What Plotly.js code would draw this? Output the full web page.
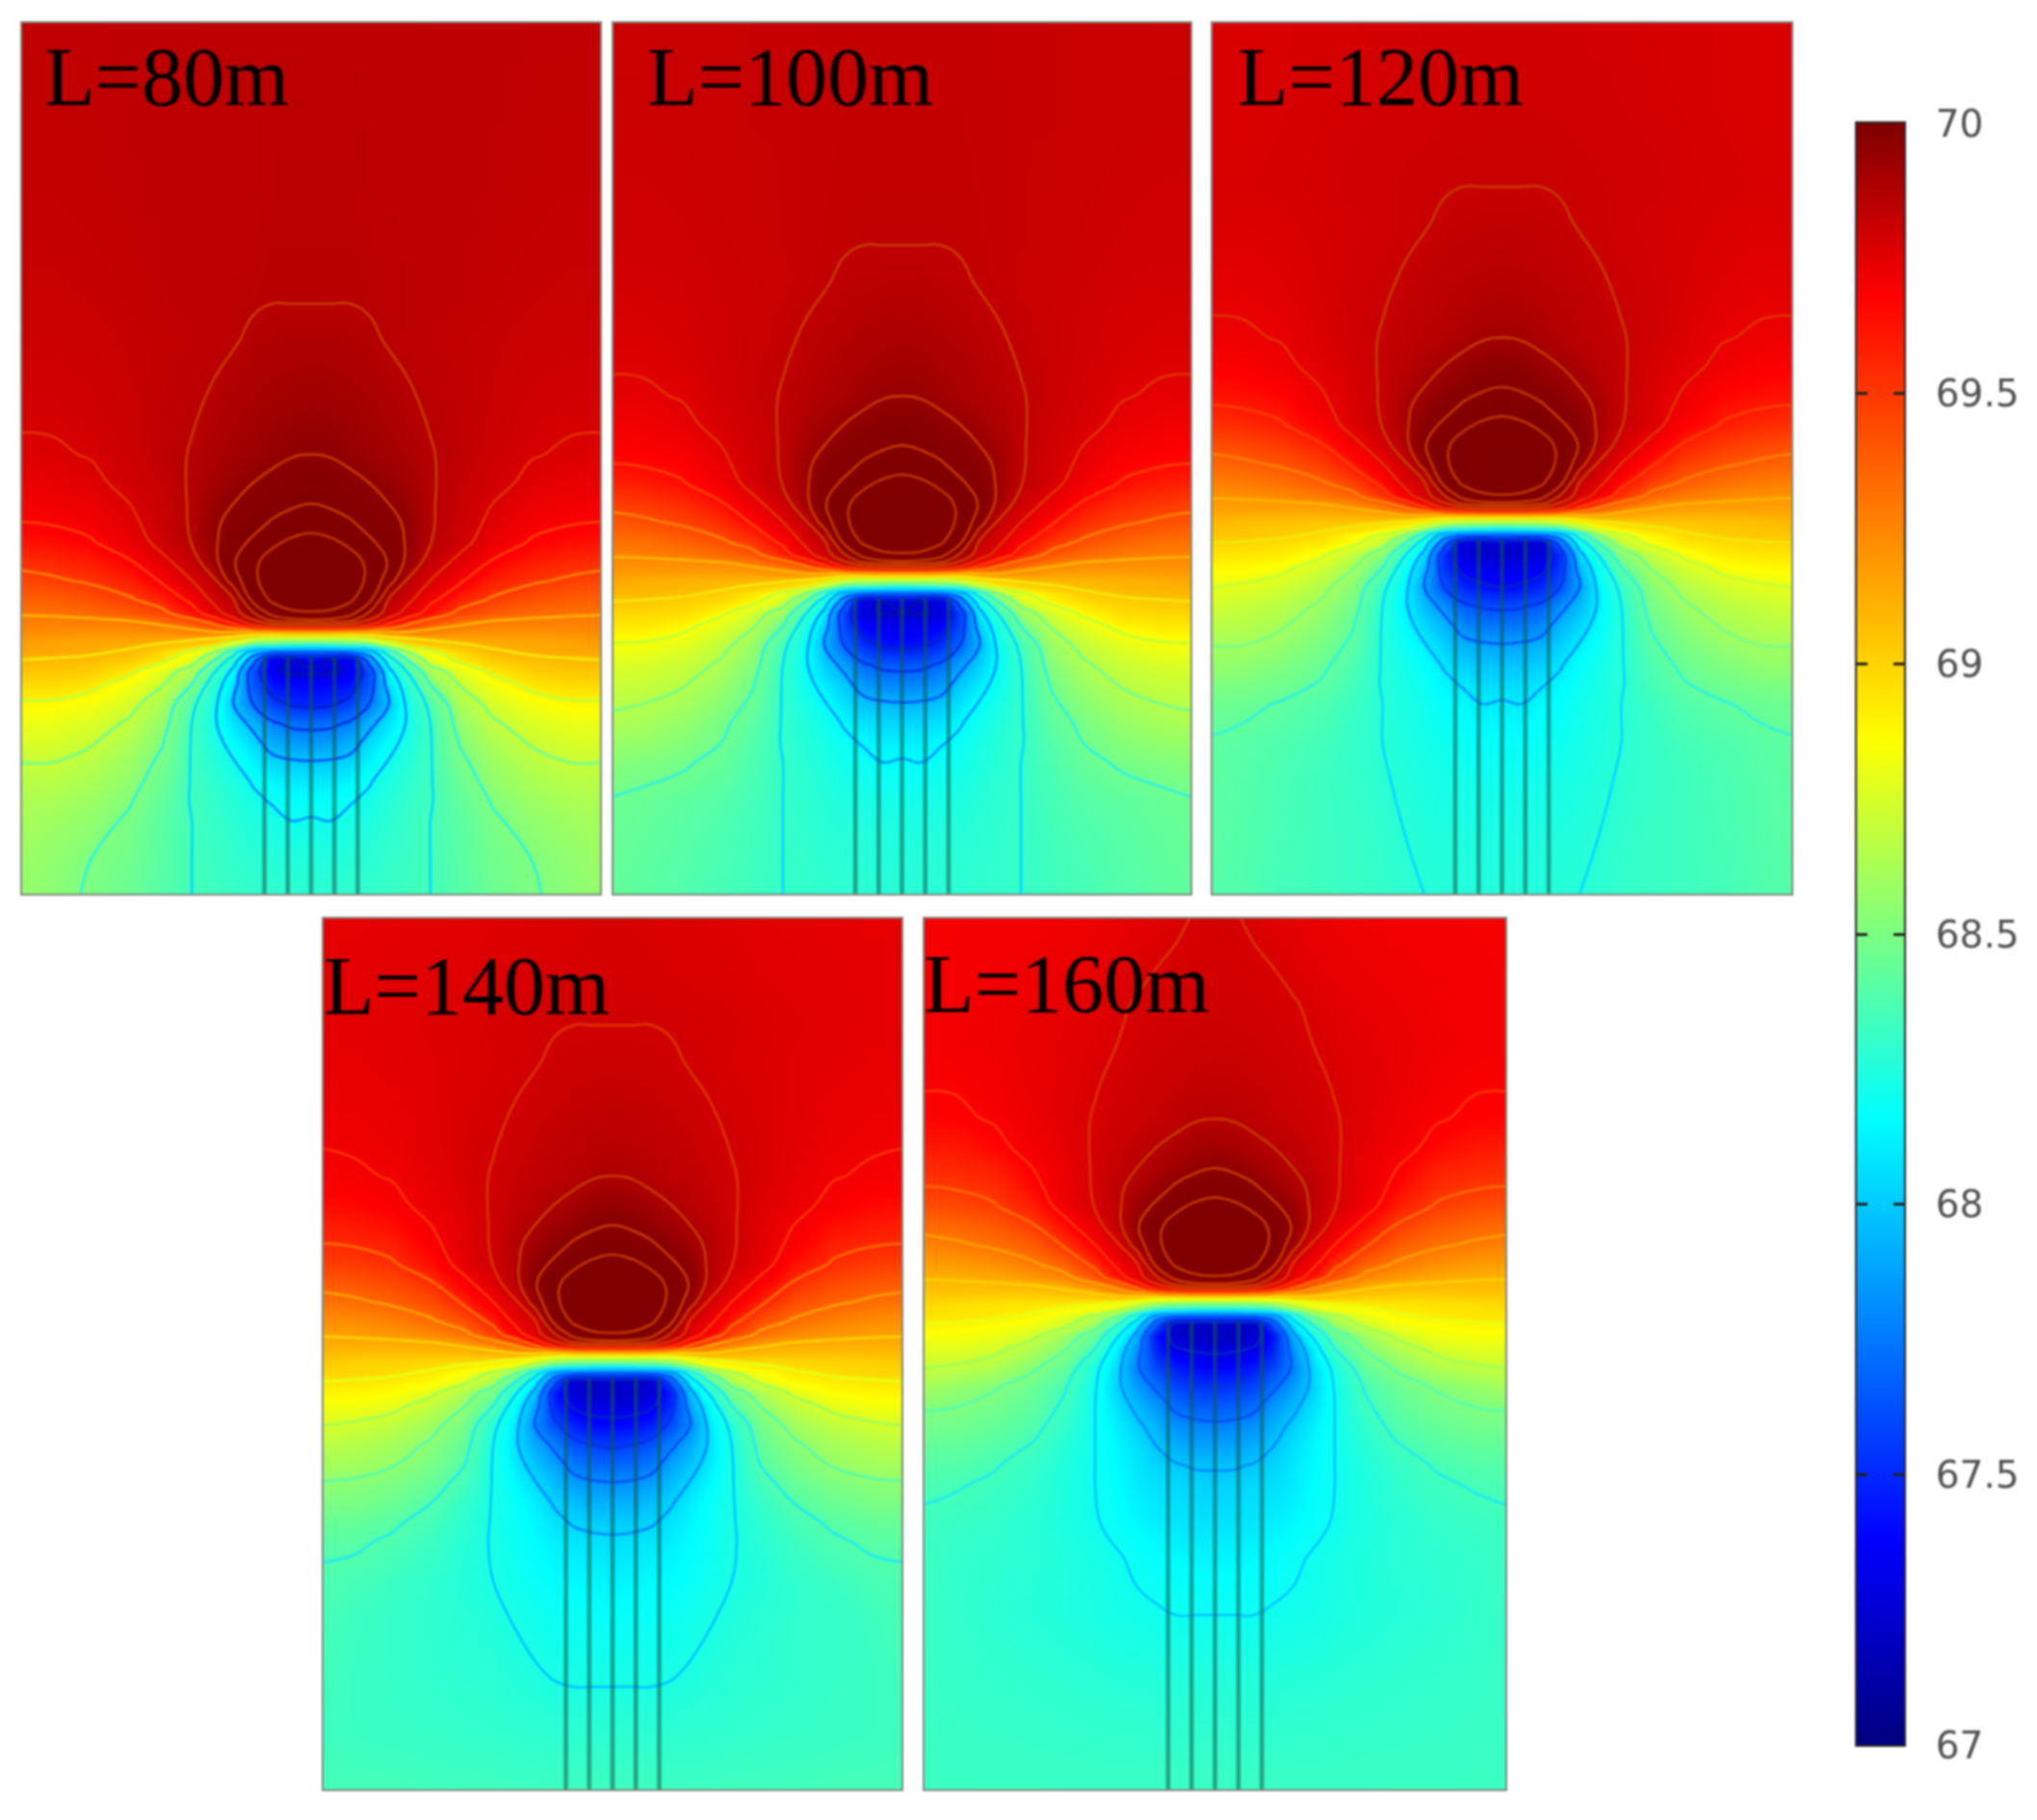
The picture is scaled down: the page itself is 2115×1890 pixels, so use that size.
<!DOCTYPE html>
<html><head><meta charset="utf-8">
<script src="https://cdn.plot.ly/plotly-3.0.1.min.js"></script>
<style>html,body{margin:0;padding:0;background:#fff}#gd{width:2115px;height:1890px;filter:blur(0.9px)}</style>
</head><body><div id="gd"></div>
<script>
// half-width column offsets from each panel's centre line (the field is mirror-symmetric)
const halfX=[0,15,30,45,60,75,92,115,140,170,200,223];
const labels=["L=80m","L=100m","L=120m","L=140m","L=160m"];
const rows80=[-474,-350,-258,-230,-200,-170,-142,-120,-104,-90,-75,-60,-45,-30,-20,-15,-10,-5,0,5,10,16,25,35,50,65,80,95,110,125,140,170,196];
const z80=[
[70.07,70.07,70.07,70.07,70.07,70.07,70.06,70.06,70.06,70.05,70.05,70.05],
[70.08,70.08,70.08,70.07,70.07,70.07,70.06,70.06,70.05,70.04,70.03,70.03],
[70.10,70.10,70.10,70.09,70.08,70.07,70.06,70.05,70.03,70.01,70.00,70.00],
[70.14,70.14,70.13,70.12,70.09,70.07,70.05,70.03,70.02,69.99,69.98,69.98],
[70.19,70.18,70.17,70.15,70.13,70.10,70.07,70.04,70.01,69.97,69.95,69.95],
[70.24,70.23,70.21,70.19,70.16,70.13,70.09,70.05,70.00,69.95,69.92,69.92],
[70.30,70.29,70.26,70.22,70.19,70.16,70.11,70.05,69.98,69.91,69.88,69.87],
[70.40,70.38,70.34,70.30,70.25,70.19,70.12,70.02,69.95,69.86,69.81,69.80],
[70.50,70.47,70.41,70.36,70.30,70.23,70.12,70.00,69.90,69.79,69.76,69.74],
[70.62,70.58,70.52,70.42,70.35,70.27,70.12,69.99,69.86,69.74,69.71,69.70],
[70.76,70.73,70.66,70.53,70.42,70.27,70.11,69.97,69.79,69.69,69.65,69.63],
[70.85,70.83,70.77,70.66,70.48,70.25,70.02,69.85,69.69,69.60,69.56,69.54],
[70.90,70.88,70.80,70.66,70.40,70.07,69.90,69.72,69.59,69.52,69.48,69.46],
[70.85,70.83,70.73,70.55,70.08,69.94,69.74,69.57,69.48,69.42,69.38,69.37],
[70.68,70.66,70.58,70.28,70.00,69.82,69.62,69.46,69.39,69.34,69.32,69.31],
[70.50,70.48,70.38,70.10,69.85,69.63,69.48,69.36,69.31,69.29,69.28,69.28],
[70.00,70.00,69.95,69.85,69.60,69.45,69.35,69.29,69.26,69.26,69.26,69.26],
[69.30,69.30,69.28,69.25,69.27,69.28,69.25,69.22,69.21,69.21,69.22,69.23],
[68.85,68.85,68.86,68.90,69.00,69.08,69.12,69.14,69.15,69.16,69.17,69.19],
[68.45,68.47,68.50,68.58,68.78,68.95,69.02,69.08,69.12,69.14,69.15,69.17],
[67.90,67.90,67.92,68.00,68.40,68.70,68.87,68.99,69.08,69.12,69.14,69.14],
[67.35,67.30,67.33,67.80,68.20,68.52,68.78,68.94,69.03,69.07,69.09,69.10],
[67.28,67.28,67.32,67.60,68.05,68.32,68.62,68.78,68.93,69.02,69.04,69.04],
[67.38,67.39,67.42,67.62,67.97,68.20,68.50,68.71,68.83,68.94,68.98,68.98],
[67.46,67.48,67.55,67.70,67.90,68.14,68.34,68.62,68.74,68.83,68.88,68.88],
[67.66,67.67,67.72,67.86,67.98,68.12,68.30,68.56,68.68,68.76,68.80,68.81],
[67.78,67.79,67.83,67.96,68.05,68.15,68.29,68.51,68.63,68.71,68.75,68.76],
[67.91,67.92,67.95,68.03,68.11,68.19,68.29,68.47,68.58,68.66,68.70,68.70],
[68.00,68.00,68.03,68.09,68.16,68.22,68.29,68.43,68.55,68.62,68.66,68.66],
[68.06,68.06,68.09,68.13,68.19,68.24,68.29,68.40,68.51,68.58,68.62,68.63],
[68.11,68.10,68.14,68.16,68.21,68.25,68.30,68.38,68.48,68.55,68.59,68.61],
[68.17,68.17,68.19,68.21,68.24,68.27,68.30,68.37,68.45,68.50,68.55,68.58],
[68.22,68.22,68.23,68.24,68.26,68.28,68.30,68.36,68.43,68.49,68.53,68.56]];
const rows100=[-429,-350,-258,-230,-200,-170,-142,-120,-104,-90,-75,-60,-45,-30,-20,-15,-10,-5,0,5,10,16,25,35,50,65,80,95,110,125,140,170,196,241];
const z100=[
[70.02,70.02,70.02,70.02,70.02,70.01,70.01,70.01,70.00,70.00,69.99,69.99],
[70.03,70.03,70.03,70.03,70.02,70.02,70.01,70.01,70.00,69.99,69.98,69.98],
[70.05,70.05,70.05,70.04,70.03,70.02,70.01,70.00,69.98,69.96,69.95,69.95],
[70.09,70.09,70.08,70.07,70.04,70.02,70.00,69.98,69.97,69.94,69.93,69.93],
[70.14,70.13,70.12,70.10,70.08,70.05,70.02,69.99,69.96,69.92,69.90,69.90],
[70.19,70.18,70.16,70.14,70.11,70.08,70.04,70.00,69.95,69.90,69.87,69.87],
[70.25,70.24,70.21,70.17,70.14,70.11,70.06,70.00,69.93,69.86,69.83,69.82],
[70.35,70.33,70.29,70.25,70.20,70.14,70.07,69.97,69.90,69.81,69.76,69.75],
[70.45,70.42,70.36,70.31,70.25,70.18,70.07,69.95,69.85,69.74,69.71,69.69],
[70.57,70.53,70.47,70.37,70.30,70.22,70.07,69.94,69.81,69.69,69.66,69.65],
[70.71,70.68,70.61,70.48,70.37,70.22,70.06,69.92,69.74,69.64,69.60,69.58],
[70.80,70.78,70.72,70.61,70.43,70.20,69.97,69.80,69.64,69.55,69.51,69.49],
[70.85,70.83,70.75,70.61,70.35,70.02,69.85,69.67,69.54,69.47,69.43,69.41],
[70.80,70.78,70.68,70.50,70.03,69.89,69.69,69.52,69.43,69.37,69.33,69.32],
[70.63,70.61,70.53,70.23,69.95,69.77,69.57,69.41,69.34,69.29,69.27,69.26],
[70.45,70.43,70.33,70.05,69.80,69.58,69.43,69.31,69.26,69.24,69.23,69.23],
[69.95,69.95,69.90,69.80,69.55,69.40,69.30,69.24,69.21,69.21,69.21,69.21],
[69.25,69.25,69.23,69.20,69.22,69.23,69.20,69.17,69.16,69.16,69.17,69.18],
[68.80,68.80,68.81,68.85,68.95,69.03,69.07,69.09,69.10,69.11,69.12,69.14],
[68.40,68.42,68.45,68.53,68.73,68.90,68.97,69.03,69.07,69.09,69.10,69.12],
[67.85,67.85,67.87,67.95,68.35,68.65,68.82,68.94,69.03,69.07,69.09,69.09],
[67.30,67.25,67.28,67.75,68.15,68.47,68.73,68.89,68.98,69.02,69.04,69.05],
[67.24,67.24,67.27,67.55,68.00,68.27,68.57,68.73,68.88,68.97,68.99,68.99],
[67.33,67.34,67.37,67.57,67.92,68.15,68.45,68.66,68.78,68.89,68.93,68.93],
[67.41,67.43,67.50,67.65,67.85,68.09,68.29,68.57,68.69,68.78,68.83,68.84],
[67.61,67.62,67.67,67.81,67.93,68.07,68.25,68.51,68.63,68.71,68.75,68.76],
[67.73,67.74,67.78,67.91,68.00,68.10,68.24,68.46,68.58,68.66,68.70,68.71],
[67.86,67.87,67.90,67.98,68.06,68.14,68.24,68.42,68.53,68.61,68.65,68.66],
[67.95,67.95,67.98,68.04,68.11,68.17,68.24,68.38,68.48,68.56,68.61,68.63],
[68.01,68.01,68.04,68.08,68.14,68.19,68.24,68.35,68.45,68.52,68.56,68.57],
[68.06,68.05,68.09,68.11,68.16,68.20,68.25,68.33,68.41,68.47,68.50,68.52],
[68.12,68.13,68.14,68.16,68.19,68.22,68.25,68.30,68.36,68.39,68.42,68.44],
[68.16,68.17,68.18,68.19,68.21,68.23,68.25,68.29,68.33,68.37,68.40,68.42],
[68.20,68.20,68.21,68.22,68.23,68.24,68.25,68.28,68.31,68.35,68.38,68.40]];
const rows120=[-384,-320,-258,-230,-200,-170,-142,-120,-104,-90,-75,-60,-45,-30,-20,-15,-10,-5,0,5,10,16,25,35,50,65,80,95,110,125,140,170,196,240,286];
const z120=[
[69.95,69.95,69.95,69.94,69.94,69.93,69.93,69.92,69.91,69.90,69.89,69.89],
[69.97,69.97,69.96,69.96,69.95,69.95,69.94,69.93,69.92,69.90,69.89,69.88],
[70.00,70.00,70.00,69.99,69.98,69.97,69.96,69.95,69.93,69.91,69.90,69.90],
[70.04,70.04,70.03,70.02,69.99,69.97,69.95,69.93,69.92,69.89,69.88,69.88],
[70.09,70.08,70.07,70.05,70.03,70.00,69.97,69.94,69.91,69.87,69.85,69.85],
[70.14,70.13,70.11,70.09,70.06,70.03,69.99,69.95,69.90,69.85,69.82,69.82],
[70.20,70.19,70.16,70.12,70.09,70.06,70.01,69.95,69.88,69.81,69.78,69.77],
[70.30,70.28,70.24,70.20,70.15,70.09,70.02,69.92,69.85,69.76,69.71,69.70],
[70.40,70.37,70.31,70.26,70.20,70.13,70.02,69.90,69.80,69.69,69.66,69.64],
[70.52,70.48,70.42,70.32,70.25,70.17,70.02,69.89,69.76,69.64,69.61,69.60],
[70.66,70.63,70.56,70.43,70.32,70.17,70.01,69.87,69.69,69.59,69.55,69.53],
[70.75,70.73,70.67,70.56,70.38,70.15,69.92,69.75,69.59,69.50,69.46,69.44],
[70.80,70.78,70.70,70.56,70.30,69.97,69.80,69.62,69.49,69.42,69.38,69.36],
[70.75,70.73,70.63,70.45,69.98,69.84,69.64,69.47,69.38,69.32,69.28,69.27],
[70.58,70.56,70.48,70.18,69.90,69.72,69.52,69.36,69.29,69.24,69.22,69.21],
[70.40,70.38,70.28,70.00,69.75,69.53,69.38,69.26,69.21,69.19,69.18,69.18],
[69.90,69.90,69.85,69.75,69.50,69.35,69.25,69.19,69.16,69.16,69.16,69.16],
[69.20,69.20,69.18,69.15,69.17,69.18,69.15,69.12,69.11,69.11,69.12,69.13],
[68.75,68.75,68.76,68.80,68.90,68.98,69.02,69.04,69.05,69.06,69.07,69.09],
[68.35,68.37,68.40,68.48,68.68,68.85,68.92,68.98,69.02,69.04,69.05,69.07],
[67.80,67.80,67.82,67.90,68.30,68.60,68.77,68.89,68.98,69.02,69.04,69.04],
[67.26,67.24,67.26,67.70,68.10,68.42,68.68,68.84,68.93,68.97,68.99,69.00],
[67.24,67.24,67.27,67.50,67.95,68.22,68.52,68.68,68.83,68.92,68.94,68.94],
[67.31,67.32,67.35,67.52,67.87,68.10,68.40,68.61,68.73,68.84,68.88,68.88],
[67.40,67.42,67.48,67.60,67.80,68.04,68.24,68.52,68.64,68.73,68.78,68.80],
[67.58,67.59,67.63,67.76,67.88,68.02,68.20,68.46,68.58,68.66,68.70,68.73],
[67.69,67.70,67.74,67.86,67.95,68.05,68.19,68.41,68.53,68.61,68.65,68.66],
[67.81,67.82,67.85,67.93,68.01,68.09,68.19,68.37,68.48,68.56,68.60,68.60],
[67.90,67.90,67.93,67.99,68.06,68.12,68.19,68.33,68.43,68.50,68.55,68.56],
[67.96,67.96,67.99,68.03,68.09,68.14,68.19,68.30,68.39,68.45,68.49,68.50],
[68.01,68.00,68.04,68.06,68.11,68.15,68.20,68.27,68.34,68.39,68.43,68.44],
[68.06,68.07,68.08,68.10,68.13,68.16,68.20,68.25,68.30,68.34,68.37,68.39],
[68.10,68.11,68.12,68.13,68.15,68.18,68.21,68.25,68.28,68.32,68.36,68.38],
[68.15,68.15,68.16,68.17,68.18,68.20,68.23,68.26,68.28,68.31,68.35,68.37],
[68.18,68.18,68.18,68.19,68.20,68.22,68.24,68.26,68.28,68.30,68.34,68.36]];
const rows140=[-340,-300,-258,-230,-200,-170,-142,-120,-104,-90,-75,-60,-45,-30,-20,-15,-10,-5,0,5,10,16,25,35,50,65,80,95,110,125,140,170,196,240,285,330];
const z140=[
[69.91,69.90,69.89,69.88,69.88,69.87,69.86,69.85,69.84,69.83,69.82,69.82],
[69.92,69.92,69.91,69.90,69.89,69.89,69.88,69.86,69.85,69.84,69.83,69.83],
[69.95,69.95,69.95,69.94,69.93,69.92,69.91,69.89,69.87,69.85,69.83,69.83],
[69.99,69.99,69.98,69.97,69.94,69.92,69.90,69.88,69.86,69.84,69.82,69.82],
[70.04,70.03,70.02,70.00,69.98,69.95,69.92,69.89,69.86,69.82,69.80,69.80],
[70.09,70.08,70.06,70.04,70.01,69.98,69.94,69.90,69.85,69.80,69.77,69.76],
[70.15,70.14,70.11,70.07,70.04,70.01,69.96,69.90,69.83,69.76,69.73,69.72],
[70.25,70.23,70.19,70.15,70.10,70.04,69.97,69.87,69.80,69.71,69.66,69.65],
[70.35,70.32,70.26,70.21,70.15,70.08,69.97,69.85,69.75,69.64,69.61,69.59],
[70.47,70.43,70.37,70.27,70.20,70.12,69.97,69.84,69.71,69.59,69.56,69.55],
[70.61,70.58,70.51,70.38,70.27,70.12,69.96,69.82,69.64,69.54,69.50,69.48],
[70.70,70.68,70.62,70.51,70.33,70.10,69.87,69.70,69.54,69.45,69.41,69.39],
[70.75,70.73,70.65,70.51,70.25,69.92,69.75,69.57,69.44,69.37,69.33,69.31],
[70.70,70.68,70.58,70.40,69.93,69.79,69.59,69.42,69.33,69.27,69.23,69.22],
[70.53,70.51,70.43,70.13,69.85,69.67,69.47,69.31,69.24,69.19,69.17,69.16],
[70.35,70.33,70.23,69.95,69.70,69.48,69.33,69.21,69.16,69.14,69.13,69.13],
[69.85,69.85,69.80,69.70,69.45,69.30,69.20,69.14,69.11,69.11,69.11,69.11],
[69.15,69.15,69.13,69.10,69.12,69.13,69.10,69.07,69.06,69.06,69.07,69.08],
[68.70,68.70,68.71,68.75,68.85,68.93,68.97,68.99,69.00,69.01,69.02,69.04],
[68.30,68.32,68.35,68.43,68.63,68.80,68.87,68.93,68.97,68.99,69.00,69.02],
[67.75,67.75,67.77,67.85,68.25,68.55,68.72,68.84,68.93,68.97,68.99,68.99],
[67.24,67.22,67.24,67.65,68.05,68.37,68.63,68.79,68.88,68.92,68.94,68.95],
[67.22,67.22,67.25,67.46,67.90,68.17,68.47,68.63,68.78,68.87,68.89,68.89],
[67.29,67.30,67.33,67.49,67.82,68.05,68.35,68.56,68.68,68.79,68.83,68.83],
[67.39,67.40,67.46,67.58,67.75,67.99,68.19,68.47,68.59,68.68,68.73,68.75],
[67.53,67.55,67.59,67.72,67.83,67.97,68.15,68.41,68.53,68.61,68.65,68.67],
[67.65,67.66,67.70,67.81,67.90,68.00,68.14,68.36,68.48,68.56,68.60,68.61],
[67.76,67.77,67.80,67.88,67.96,68.04,68.14,68.30,68.41,68.49,68.53,68.54],
[67.85,67.85,67.88,67.94,68.01,68.07,68.14,68.25,68.35,68.43,68.48,68.49],
[67.92,67.92,67.94,67.98,68.03,68.08,68.14,68.22,68.30,68.37,68.41,68.42],
[67.97,67.98,67.99,68.01,68.05,68.09,68.14,68.20,68.27,68.33,68.37,68.37],
[68.02,68.03,68.04,68.05,68.08,68.11,68.15,68.18,68.23,68.27,68.31,68.33],
[68.06,68.07,68.08,68.09,68.11,68.14,68.17,68.20,68.23,68.25,68.28,68.31],
[68.13,68.13,68.13,68.14,68.16,68.18,68.20,68.21,68.23,68.25,68.27,68.29],
[68.21,68.21,68.21,68.21,68.22,68.22,68.23,68.24,68.25,68.26,68.27,68.28],
[68.28,68.28,68.28,68.28,68.28,68.28,68.29,68.29,68.29,68.30,68.30,68.30]];
const rows160=[-296,-258,-230,-200,-170,-142,-120,-104,-90,-75,-60,-45,-30,-20,-15,-10,-5,0,5,10,16,25,35,50,65,80,95,110,125,140,170,196,240,300,374];
const z160=[
[69.92,69.91,69.88,69.85,69.83,69.80,69.78,69.76,69.74,69.74,69.73,69.73],
[69.93,69.93,69.92,69.90,69.87,69.84,69.81,69.79,69.77,69.75,69.74,69.73],
[69.95,69.95,69.94,69.93,69.91,69.88,69.85,69.82,69.79,69.76,69.74,69.74],
[69.99,69.98,69.97,69.95,69.93,69.90,69.87,69.84,69.81,69.77,69.75,69.74],
[70.04,70.03,70.01,69.99,69.96,69.93,69.89,69.85,69.80,69.75,69.71,69.71],
[70.10,70.09,70.06,70.02,69.99,69.96,69.91,69.85,69.78,69.71,69.68,69.67],
[70.20,70.18,70.14,70.10,70.05,69.99,69.92,69.82,69.75,69.66,69.61,69.60],
[70.30,70.27,70.21,70.16,70.10,70.03,69.92,69.80,69.70,69.59,69.56,69.54],
[70.42,70.38,70.32,70.22,70.15,70.07,69.92,69.79,69.66,69.54,69.51,69.50],
[70.56,70.53,70.46,70.33,70.22,70.07,69.91,69.77,69.59,69.49,69.45,69.43],
[70.65,70.63,70.57,70.46,70.28,70.05,69.82,69.65,69.49,69.40,69.36,69.34],
[70.70,70.68,70.60,70.46,70.20,69.87,69.70,69.52,69.39,69.32,69.28,69.26],
[70.65,70.63,70.53,70.35,69.88,69.74,69.54,69.37,69.28,69.22,69.18,69.17],
[70.48,70.46,70.38,70.08,69.80,69.62,69.42,69.26,69.19,69.14,69.12,69.11],
[70.30,70.28,70.18,69.90,69.65,69.43,69.28,69.16,69.11,69.09,69.08,69.08],
[69.80,69.80,69.75,69.65,69.40,69.25,69.15,69.09,69.06,69.06,69.06,69.06],
[69.10,69.10,69.08,69.05,69.07,69.08,69.05,69.02,69.01,69.01,69.02,69.03],
[68.65,68.65,68.66,68.70,68.80,68.88,68.92,68.94,68.95,68.96,68.97,68.99],
[68.25,68.27,68.30,68.38,68.58,68.75,68.82,68.88,68.92,68.94,68.95,68.97],
[67.70,67.70,67.72,67.80,68.20,68.50,68.67,68.79,68.88,68.92,68.94,68.94],
[67.22,67.20,67.22,67.62,68.00,68.32,68.58,68.74,68.83,68.87,68.89,68.90],
[67.20,67.20,67.23,67.42,67.85,68.12,68.42,68.58,68.73,68.82,68.84,68.84],
[67.27,67.28,67.31,67.46,67.77,68.00,68.30,68.51,68.63,68.74,68.78,68.78],
[67.38,67.40,67.45,67.56,67.72,67.94,68.14,68.40,68.52,68.63,68.68,68.70],
[67.51,67.52,67.56,67.68,67.80,67.93,68.11,68.31,68.43,68.51,68.56,68.60],
[67.62,67.63,67.67,67.78,67.87,67.97,68.10,68.27,68.39,68.46,68.50,68.51],
[67.73,67.74,67.77,67.85,67.93,68.01,68.10,68.23,68.34,68.41,68.45,68.46],
[67.81,67.81,67.84,67.90,67.97,68.03,68.10,68.19,68.29,68.36,68.40,68.41],
[67.89,67.89,67.91,67.94,67.99,68.04,68.10,68.17,68.25,68.31,68.35,68.36],
[67.93,67.94,67.95,67.97,68.00,68.05,68.10,68.16,68.23,68.28,68.31,68.32],
[67.98,67.98,67.99,68.01,68.04,68.07,68.11,68.16,68.20,68.24,68.26,68.28],
[68.03,68.03,68.04,68.06,68.08,68.11,68.14,68.17,68.20,68.22,68.24,68.27],
[68.10,68.10,68.10,68.11,68.12,68.13,68.15,68.17,68.19,68.21,68.24,68.26],
[68.19,68.19,68.19,68.19,68.20,68.20,68.21,68.22,68.23,68.24,68.25,68.26],
[68.27,68.27,68.27,68.27,68.27,68.27,68.27,68.27,68.27,68.27,68.27,68.27]];
// lowest contour level of each panel; levels step by contourStep
const contourStart=[67.3,67.25,67.2,67.15,67.1];
const contourStep=0.2, contourEnd=71;
// well lines (offset from centre) and their upper end
const wellX=[-36,-18,0,18,36];
const wellTop=14;
// colour ramps
const fieldVals=[67,67.38,68.05,68.25,68.5,68.86,69.68,69.9,70.1,70.3,70.5,71];
const fieldCols=["#00007f","#0000ff","#00ffff","#35ffc8","#7fff7f","#ffff00","#ff0000","#d80000","#b8000 0".replace(" ",""),"#8b0000","#800000","#7f0000"];
const lineVals=[67,67.5,67.7,67.9,68.1,68.3,68.5,68.7,68.9,69.1,69.3,69.5,69.7,69.9,70.1,71];
const lineCols=["#0010b0","#0038f0","#0060ff","#00a0ff","#00d8ff","#28f0e8","#60ffa0","#a8ff50","#e8ff10","#ffd000","#ffa000","#ff7000","#ff3000","#e03000","#c83800","#b03000"];
const barVals=[67,67.38,68.16,68.51,68.86,69.68,70];
const barCols=["#00007f","#0000ff","#00ffff","#7fff7f","#ffff00","#ff0000","#7f0000"];
const barTicks=[67,67.5,68,68.5,69,69.5,70];
const barLabels=["67","67.5","68","68.5","69","69.5","70"];
// panel frames in page pixels: left,right,top,bottom
const frames=[[23,623,24,928],[637,1236,24,928],[1259,1860,24,928],[336,936,954,1858],[960,1563,954,1858]];
const labelPos=[[47,80],[673,80],[1286,80],[337,1024],[960,1022]];
const barFrame=[1928,1977,128,1812];
const W=2115,H=1890;

const mirrorRow=r=>r.slice(1).reverse().concat(r);
const fullX=halfX.slice(1).reverse().map(v=>-v).concat(halfX);
const scale=(vals,cols,lo,hi)=>vals.map((v,i)=>[(v-lo)/(hi-lo),cols[i]]);
const allRows=[rows80,rows100,rows120,rows140,rows160];
const allZ=[z80,z100,z120,z140,z160];
const traces=[],layout={width:W,height:H,margin:{l:0,r:0,t:0,b:0},paper_bgcolor:"#fff",plot_bgcolor:"#fff",showlegend:false,annotations:[]};
const hiddenAxis={showgrid:false,zeroline:false,showticklabels:false,ticks:"",showline:true,mirror:true,linecolor:"rgba(105,115,105,0.85)",linewidth:2};
allRows.forEach((rows,i)=>{
  const k=i+1, xa="x"+k, ya="y"+k, f=frames[i];
  const z=allZ[i].map(mirrorRow);
  layout["xaxis"+k]=Object.assign({},hiddenAxis,{domain:[f[0]/W,f[1]/W],range:[-223,223],anchor:ya});
  layout["yaxis"+k]=Object.assign({},hiddenAxis,{domain:[1-f[3]/H,1-f[2]/H],range:[rows[rows.length-1],rows[0]],anchor:xa});
  traces.push({type:"heatmap",x:fullX,y:rows,z:z,xaxis:xa,yaxis:ya,zsmooth:"best",zmin:67,zmax:71,zauto:false,
    colorscale:scale(fieldVals,fieldCols,67,71),showscale:false,hoverinfo:"skip"});
  traces.push({type:"contour",x:fullX,y:rows,z:z,xaxis:xa,yaxis:ya,zmin:67,zmax:71,zauto:false,autocontour:false,
    colorscale:scale(lineVals,lineCols,67,71),showscale:false,hoverinfo:"skip",
    contours:{coloring:"lines",start:contourStart[i],end:contourEnd,size:contourStep,showlabels:false},
    line:{width:2.8,smoothing:1.3}});
  const wx=[],wy=[];
  wellX.forEach(w=>{wx.push(w,w,null);wy.push(rows[rows.length-1],wellTop,null);});
  traces.push({type:"scatter",mode:"lines",x:wx,y:wy,xaxis:xa,yaxis:ya,hoverinfo:"skip",
    line:{color:"rgba(20,90,80,0.55)",width:4.6}});
  layout.annotations.push({text:labels[i],xref:"paper",yref:"paper",x:labelPos[i][0]/W,y:1-labelPos[i][1]/H,
    xanchor:"left",yanchor:"middle",showarrow:false,align:"left",font:{family:"Liberation Serif",size:86,color:"#000"},xshift:-3});
});
layout.xaxis6={domain:[barFrame[0]/W,barFrame[1]/W],range:[0,1],anchor:"y6",showgrid:false,zeroline:false,showticklabels:false,ticks:"",showline:true,mirror:true,linecolor:"#2a2a2a",linewidth:2};
layout.yaxis6={domain:[1-barFrame[3]/H,1-barFrame[2]/H],range:[67,70],anchor:"x6",side:"right",showgrid:false,zeroline:false,showline:true,mirror:"ticks",linecolor:"#2a2a2a",linewidth:2,
  tickmode:"array",tickvals:barTicks,ticktext:barLabels,ticks:"inside",ticklen:11,tickwidth:3,tickcolor:"#222",ticklabelstandoff:23,
  tickfont:{family:"DejaVu Sans",size:39,color:"#505050"}};
traces.push({type:"heatmap",x:[0,1],y:barVals,z:barVals.map(v=>[v,v]),xaxis:"x6",yaxis:"y6",zsmooth:"best",zmin:67,zmax:70,zauto:false,
  colorscale:scale(barVals,barCols,67,70),showscale:false,hoverinfo:"skip"});
Plotly.newPlot("gd",traces,layout,{displayModeBar:false,staticPlot:true});
</script></body></html>
